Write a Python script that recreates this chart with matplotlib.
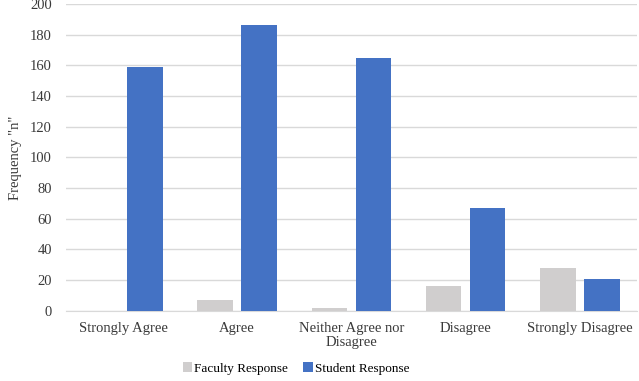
import matplotlib

matplotlib.use("Agg")
import matplotlib.pyplot as plt  # noqa: E402
import numpy as np  # noqa: E402

CATEGORIES = ["Strongly Agree", "Agree", "Neither Agree nor\nDisagree", "Disagree", "Strongly Disagree"]
FACULTY = [0, 7, 2, 16, 28]
STUDENT = [159, 186, 165, 67, 21]

GRAY = "#d0cece"
BLUE = "#4472c4"
GRID = "#d9d9d9"
INK = "#3a3a3a"

plt.rcParams.update({
    "font.family": ["Liberation Serif", "DejaVu Serif"],
    "font.size": 10.5,
})

fig = plt.figure(figsize=(6.39, 3.81), dpi=100)
ax = fig.add_axes([0.103, 0.184, 0.894, 0.806])

x = np.arange(len(CATEGORIES))
width = 0.31
gap = 0.075
ax.bar(x - (width + gap) / 2, FACULTY, width, color=GRAY, label="Faculty Response", zorder=3)
ax.bar(x + (width + gap) / 2, STUDENT, width, color=BLUE, label="Student Response", zorder=3)

ax.set_xlim(-0.5, len(CATEGORIES) - 0.5)
ax.set_ylim(0, 200)
ax.set_yticks(range(0, 201, 20))
ax.set_xticks(x)
ax.set_xticklabels(CATEGORIES, color=INK, linespacing=1.1)
ax.tick_params(axis="both", length=0, labelsize=10.5, colors=INK)
ax.tick_params(axis="x", pad=8)
ax.tick_params(axis="y", pad=10)
for side in ("top", "right", "left"):
    ax.spines[side].set_visible(False)
ax.spines["bottom"].set_color(GRID)
ax.grid(axis="y", color=GRID, linewidth=1, zorder=0)
ax.set_axisbelow(True)
ax.set_ylabel("Frequency \"n\"", color=INK, labelpad=6)

fig.legend(loc="lower center", bbox_to_anchor=(0.463, -0.015), ncols=2, frameon=False,
           handlelength=0.7, handleheight=0.8, handletextpad=0.15, columnspacing=1.2,
           fontsize=9.5)

fig.savefig("out.png", dpi=100)
